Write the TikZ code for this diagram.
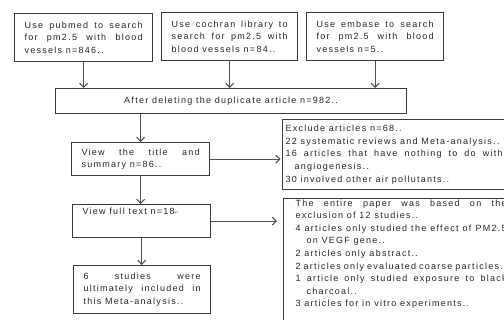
\documentclass[tikz,border=0pt]{standalone}
\usepackage{fontspec}
\newfontfamily\lsfont{Liberation Sans}[LetterSpace=14]
\newfontfamily\dvfont{DejaVu Sans}
\usetikzlibrary{arrows.meta}
\definecolor{boxline}{HTML}{3A3A3A}
\definecolor{arrline}{HTML}{505050}
\hyphenpenalty=10000
\exhyphenpenalty=10000
\tolerance=9999
\emergencystretch=20pt
\spaceskip=2.4pt plus 30pt minus 0.6pt
\begin{document}
\begin{tikzpicture}[x=1pt,y=-1pt,
  fbox/.style={draw=boxline, line width=1.2pt, anchor=north west, inner ysep=0pt,
    font=\lsfont\fontsize{9}{12.6}\selectfont, text=black!85},
  arr/.style={draw=arrline, line width=1pt, -{Straight Barb[length=4pt,width=8pt]}}]
\clip (0,0) rectangle (504,320);
\fill[white] (0,0) rectangle (504,320);
\node[fbox, inner xsep=10pt] (b1) at (14,13)
  {\parbox[c][48pt][c]{118pt}{Use pubmed to search for pm2.5 with blood vessels n=846..}};
\node[fbox, inner xsep=10pt] (b2) at (161,12)
  {\parbox[c][48pt][c]{116pt}{Use cochran library to search for pm2.5 with blood vessels n=84..}};
\node[fbox, inner xsep=10pt] (b3) at (306,12)
  {\parbox[c][48pt][c]{117pt}{Use embase to search for pm2.5 with blood vessels n=5..}};
\node[fbox, inner xsep=0pt] (main) at (55,88)
  {\parbox[c][25pt][c]{351pt}{\centering After deleting the duplicate article n=982..}};
\node[fbox, inner xsep=10pt] (title) at (71,142)
  {\parbox[c][33pt][c]{118pt}{View the title and summary n=86..}};
\node[fbox, inner xsep=10pt] (full) at (72,204)
  {\parbox[c][33pt][t]{118pt}{\vspace*{3pt}View full text n=18{\dvfont\fontsize{5}{5}\selectfont\color{black!60}↵}}};
\node[fbox, inner xsep=10pt] (six) at (73,265)
  {\parbox[c][48pt][c]{117pt}{6 studies were\linebreak ultimately included in\linebreak this Meta-analysis..}};
\node[fbox, inner xsep=3pt] (rb1) at (282,119)
  {\parbox[c][70pt][c]{217pt}{Exclude articles n=68..\par
   22 systematic reviews and Meta-analysis..\par
   \hangindent=9pt\hangafter=1 16 articles that have nothing to do with\linebreak angiogenesis..\par
   30 involved other air pollutants..}};
\node[fbox, inner xsep=12pt] (rb2) at (283,198)
  {\parbox[c][135pt][t]{211pt}{\vspace*{1pt}The entire paper was based on the\linebreak exclusion of 12 studies..\par
   \hangindent=11pt\hangafter=1 4 articles only studied the effect of PM2.5\linebreak on VEGF gene..\par
   2 articles only abstract..\par
   2 articles only evaluated coarse particles..\par
   \hangindent=11pt\hangafter=1 1 article only studied exposure to black\linebreak charcoal..\par
   3 articles for in vitro experiments..}};
\draw[arr] (b1.south) -- (b1.south |- main.north);
\draw[arr] (b2.south) -- (b2.south |- main.north);
\draw[arr] (b3.south) -- (b3.south |- main.north);
\draw[arr] (main.south -| title.north) -- (title.north);
\draw[arr] (title.south) -- (title.south |- full.north);
\draw[arr] (full.south) -- (full.south |- six.north);
\draw[arr, shorten >=1.5pt] (title.east) -- (title.east -| rb1.west);
\draw[arr, shorten >=6pt] (full.east) -- (full.east -| rb2.west);
\end{tikzpicture}
\end{document}
